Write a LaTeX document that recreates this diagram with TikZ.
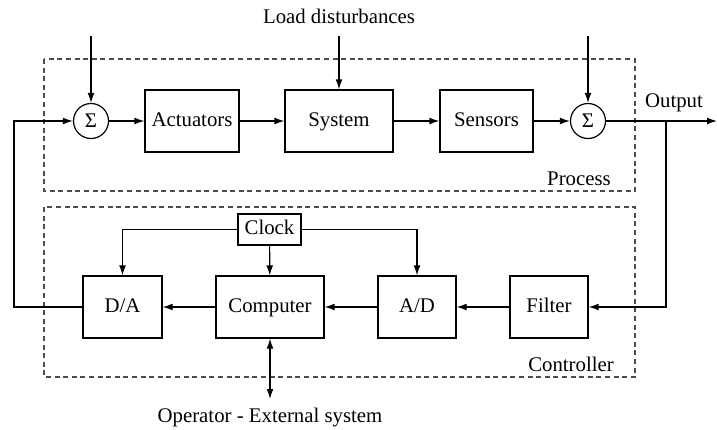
\documentclass[tikz,border=0pt]{standalone}
\usepackage{fontspec}
\setmainfont{Liberation Serif}
\usetikzlibrary{arrows.meta}

\begin{document}
\begin{tikzpicture}[x=0.5pt, y=-0.5pt, line width=0.6pt,
  font=\fontsize{10.4}{12}\selectfont,
  >={Latex[length=5pt,width=3.4pt]},
  blk/.style={draw, minimum height=31pt, inner sep=0pt, text height=7pt, text depth=2pt},
  sumnode/.style={draw, circle, minimum size=17.5pt, inner sep=0pt},
  frame/.style={draw, gray!60!black, dash pattern=on 2.5pt off 1.8pt}]
\useasboundingbox (0, 0) rectangle (717, 429);
% process part
\draw[frame] (44, 59) rectangle (635, 191);
\node (sumA) at (91, 121) [sumnode] {Σ};
\node (act) at (192, 121) [blk, minimum width=47pt] {Actuators};
\node (sys) at (339, 121) [blk, minimum width=54pt] {System};
\node (sens) at (486.5, 121) [blk, minimum width=46.5pt] {Sensors};
\node (sumB) at (588, 121) [sumnode] {Σ};
\node (process) at (579, 179) {Process};
\node (load) at (339, 16) {Load disturbances};
\coordinate (inA) at (91, 36);
\coordinate (inS) at (339, 36);
\coordinate (inB) at (588, 36);
\draw[->] (inA) -- (sumA);
\draw[->] (inS) -- (sys);
\draw[->] (inB) -- (sumB);
\draw[->] (sumA) -- (act);
\draw[->] (act) -- (sys);
\draw[->] (sys) -- (sens);
\draw[->] (sens) -- (sumB);
\coordinate (out) at (717, 121);
\coordinate (branch) at (666, 121);
\draw[->] (sumB) -- (out);
\node (output) at (674, 103) {Output};
% controller part
\draw[frame] (44, 207) rectangle (635, 377);
\node (clock) at (269.5, 229.5) [blk, minimum width=31.5pt, minimum height=15.5pt] {Clock};
\node (da) at (122.5, 307) [blk, minimum width=39.5pt] {D/A};
\node (comp) at (270, 307) [blk, minimum width=54pt] {Computer};
\node (ad) at (417, 307) [blk, minimum width=39pt] {A/D};
\node (filt) at (549, 307) [blk, minimum width=39pt] {Filter};
\node (controller) at (571, 364) {Controller};
\draw[->] (branch) |- (filt);
\draw[->] (filt) -- (ad);
\draw[->] (ad) -- (comp);
\draw[->] (comp) -- (da);
\draw[->] (clock.west) -| (da.north);
\draw[->] (clock.east) -| (ad.north);
\draw[->] (clock) -- (comp);
\coordinate (fb) at (14, 307);
\draw[->] (da) -- (fb) |- (sumA);
\coordinate (op) at (270, 399);
\draw[<->] (comp) -- (op);
\node (operator) at (270, 418) {Operator - External system};
\end{tikzpicture}
\end{document}
